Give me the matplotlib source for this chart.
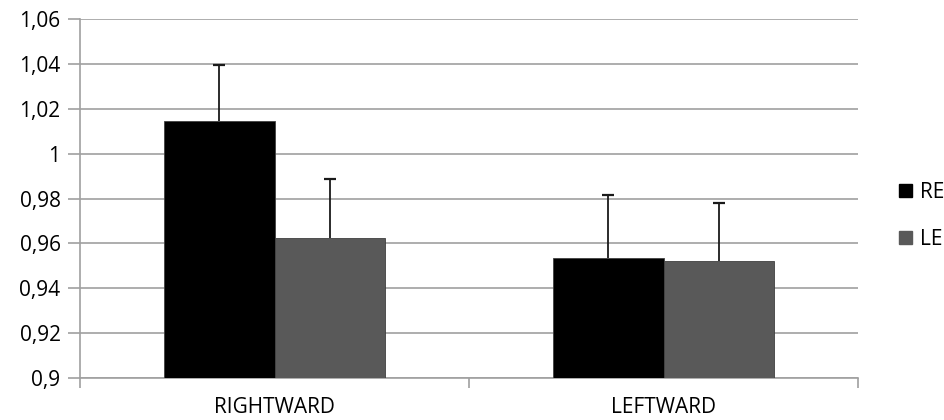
import numpy as np
import matplotlib.pyplot as plt
from matplotlib.patches import Patch
from matplotlib.ticker import FuncFormatter

categories = ['RIGHTWARD', 'LEFTWARD']
series = ['RE', 'LE']
re_vals = [1.0145, 0.9535]
le_vals = [0.9625, 0.9522]
re_err = [0.025, 0.028]
le_err = [0.026, 0.026]

colors = ['#000000', '#595959']
grid_col = '#A0A0A0'

plt.rcParams['font.family'] = ['Open Sans', 'DejaVu Sans']

fig = plt.figure(figsize=(9.44, 4.2), dpi=100)
ax = fig.add_axes([80 / 944, 42 / 420, 778 / 944, 359 / 420])

x = np.arange(len(categories))
w = 0.285
for i, (vals, errs) in enumerate([(re_vals, re_err), (le_vals, le_err)]):
    pos = x + (i - 0.5) * w
    vals = np.array(vals)
    tops = vals + np.array(errs)
    ax.bar(pos, vals - 0.9, w, bottom=0.9, color=colors[i],
           edgecolor='#404040', linewidth=0.6, zorder=3)
    # upper error bars only
    ax.vlines(pos, vals, tops, color='#1a1a1a', linewidth=1.3, zorder=4)
    ax.plot(pos, tops, linestyle='none', marker='_', markersize=8,
            markeredgewidth=1.6, color='#1a1a1a', zorder=4)

ax.set_xlim(-0.5, 1.5)
ax.set_ylim(0.9, 1.06)
ax.set_yticks(np.arange(0.9, 1.0601, 0.02))
ax.yaxis.set_major_formatter(FuncFormatter(
    lambda v, p: ('%g' % round(v, 2)).replace('.', ',')))
ax.grid(axis='y', color=grid_col, linewidth=1.2, zorder=0)
ax.tick_params(axis='y', length=9, color=grid_col, width=1.2, labelsize=15, pad=5)

ax.set_xticks(x)
ax.set_xticklabels(categories)
ax.set_xticks([-0.5, 0.5, 1.5], minor=True)
ax.tick_params(axis='x', which='major', length=0, labelsize=15, pad=14)
ax.tick_params(axis='x', which='minor', length=7, color=grid_col, width=1.2)

for s in ['top', 'right']:
    ax.spines[s].set_visible(False)
for s in ['left', 'bottom']:
    ax.spines[s].set_color(grid_col)
    ax.spines[s].set_linewidth(1.2)

handles = [Patch(facecolor=c, edgecolor=c) for c in colors]
fig.legend(handles, series, loc='center left', bbox_to_anchor=(899 / 944, 0.486),
           frameon=False, fontsize=15, handlelength=0.6, handleheight=0.6,
           handletextpad=0.4, labelspacing=1.25, borderaxespad=0, borderpad=0)

fig.savefig('out.png', dpi=100)
